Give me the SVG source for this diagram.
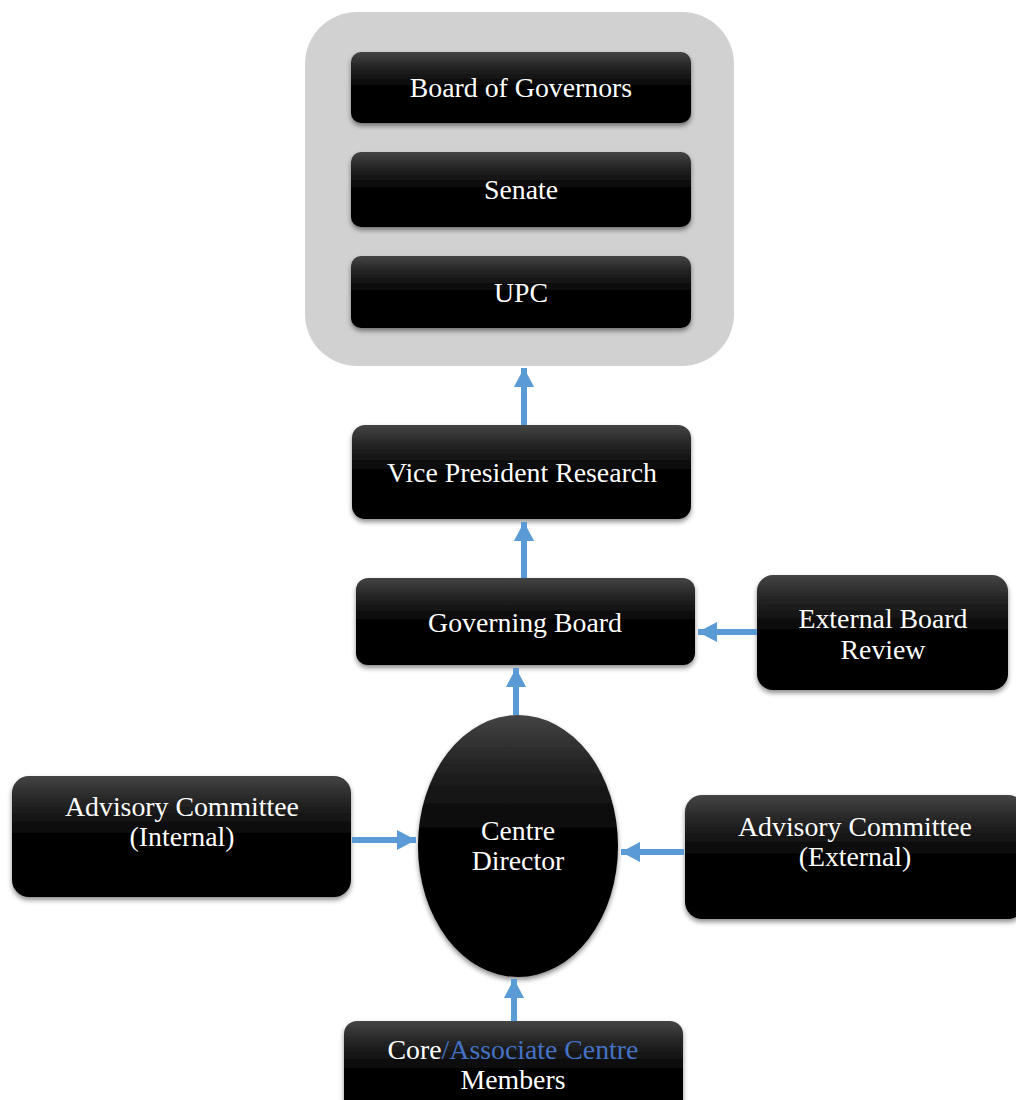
<svg xmlns="http://www.w3.org/2000/svg" width="1016" height="1100" viewBox="0 0 1016 1100">
<defs>
<linearGradient id="g" x1="0" y1="0" x2="0" y2="1">
<stop offset="0" stop-color="#444"/>
<stop offset="0.2" stop-color="#262626"/>
<stop offset="0.5" stop-color="#030303"/>
<stop offset="1" stop-color="#000"/>
</linearGradient>
<linearGradient id="ge2" x1="0" y1="0" x2="0" y2="1">
<stop offset="0" stop-color="#444"/>
<stop offset="0.2" stop-color="#222"/>
<stop offset="0.45" stop-color="#040404"/>
<stop offset="1" stop-color="#000"/>
</linearGradient>
<filter id="sh" x="-10%" y="-10%" width="120%" height="130%">
<feDropShadow dx="0" dy="3" stdDeviation="2.5" flood-color="#000" flood-opacity="0.45"/>
</filter>
<marker id="ah" markerWidth="4" markerHeight="4" refX="3.2" refY="2" orient="auto" markerUnits="strokeWidth">
<path d="M0,0.3 L3.2,2 L0,3.7 Z" fill="#5B9BD5"/>
</marker>
</defs>
<style>
.box{fill:url(#g);filter:url(#sh);}
.t{font-family:"Liberation Serif","Times New Roman",serif;font-size:27.8px;fill:#fff;text-anchor:middle;}
.c{stroke:#5B9BD5;stroke-width:6;fill:none;marker-end:url(#ah);}
</style>
<rect width="1016" height="1100" fill="#fff"/>
<g id="container">
<rect x="305" y="12" width="429" height="354" rx="52" fill="#d1d1d1"/>
</g>
<g id="board-of-governors">
<rect class="box" x="351" y="52" width="340" height="71" rx="10"/>
<text class="t" x="521" y="97">Board of Governors</text>
</g>
<g id="senate">
<rect class="box" x="351" y="152" width="340" height="75" rx="10"/>
<text class="t" x="521" y="199">Senate</text>
</g>
<g id="upc">
<rect class="box" x="351" y="256" width="340" height="72" rx="10"/>
<text class="t" x="521" y="302">UPC</text>
</g>
<g id="vice-president-research">
<rect class="box" x="352" y="425" width="339" height="94" rx="13"/>
<text class="t" x="522" y="482">Vice President Research</text>
</g>
<g id="governing-board">
<rect class="box" x="356" y="578" width="339" height="87" rx="12"/>
<text class="t" x="525" y="632">Governing Board</text>
</g>
<g id="external-board-review">
<rect class="box" x="757" y="575" width="251" height="115" rx="16"/>
<text class="t" x="883" y="628">External Board</text>
<text class="t" x="883" y="659">Review</text>
</g>
<g id="centre-director">
<ellipse cx="518" cy="846" rx="100" ry="131" fill="url(#ge2)" filter="url(#sh)"/>
<text class="t" x="518" y="840">Centre</text>
<text class="t" x="518" y="870">Director</text>
</g>
<g id="advisory-internal">
<rect class="box" x="12" y="776" width="339" height="121" rx="17"/>
<text class="t" x="182" y="816">Advisory Committee</text>
<text class="t" x="182" y="846">(Internal)</text>
</g>
<g id="advisory-external">
<rect class="box" x="685" y="795" width="340" height="124" rx="17"/>
<text class="t" x="855" y="836">Advisory Committee</text>
<text class="t" x="855" y="866">(External)</text>
</g>
<g id="core-members">
<rect class="box" x="344" y="1021" width="339" height="100" rx="13"/>
<text class="t" x="513" y="1059">Core<tspan fill="#4472C4">/Associate Centre</tspan></text>
<text class="t" x="513" y="1089">Members</text>
</g>
<g id="connectors">
<line class="c" x1="524" y1="425" x2="524" y2="368"/>
<line class="c" x1="524" y1="578" x2="524" y2="522"/>
<line class="c" x1="757" y1="632" x2="698" y2="632"/>
<line class="c" x1="516" y1="715" x2="516" y2="668"/>
<line class="c" x1="352" y1="840" x2="416" y2="840"/>
<line class="c" x1="684" y1="852" x2="621" y2="852"/>
<line class="c" x1="514" y1="1021" x2="514" y2="979"/>
</g>
</svg>
